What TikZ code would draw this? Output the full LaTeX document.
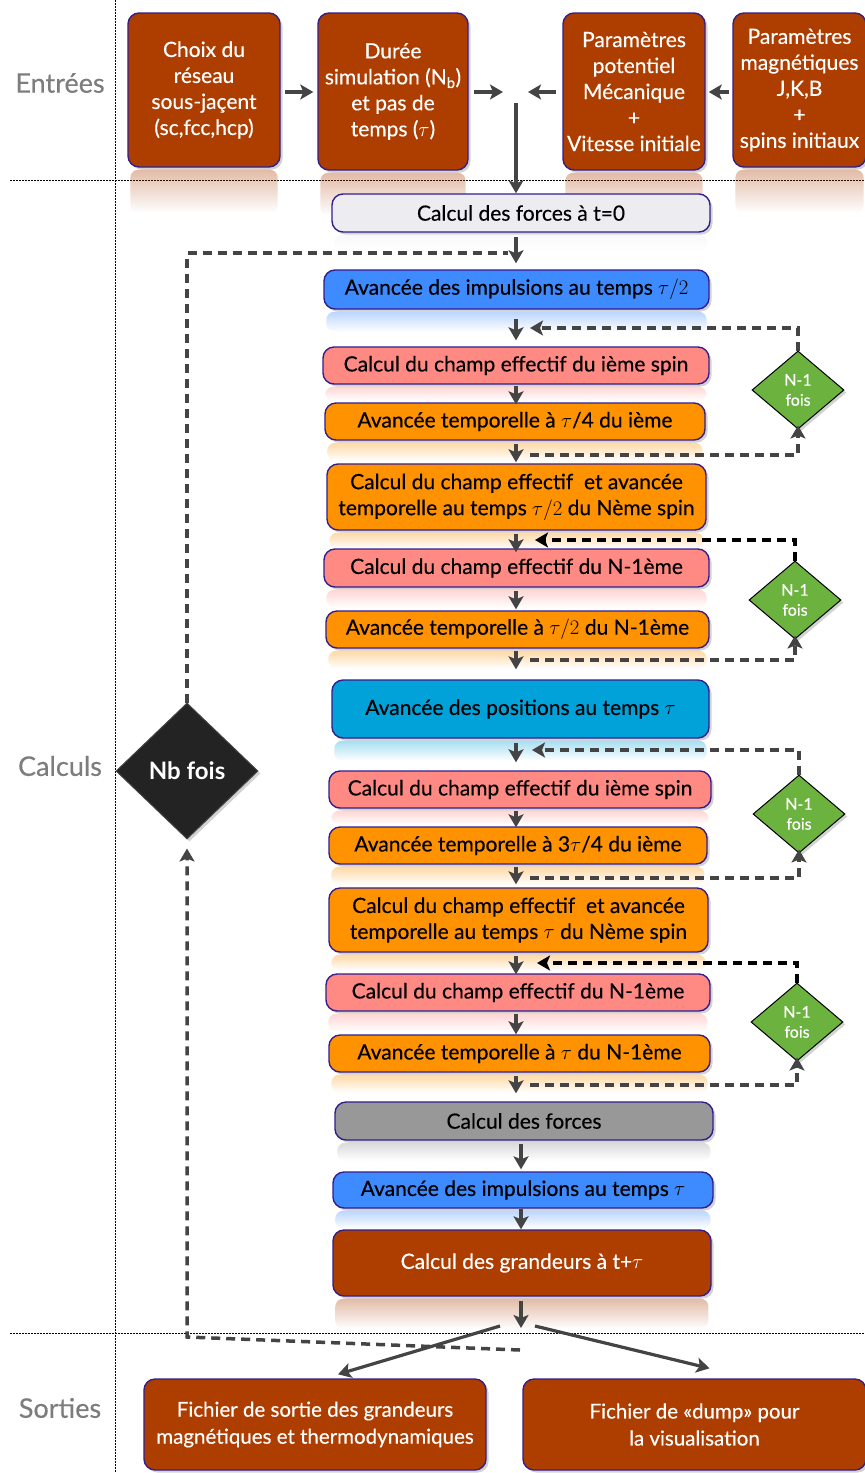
\documentclass[tikz,border=0pt]{standalone}
\usepackage{fontspec}
\setmainfont{Lato}[UprightFeatures={FakeBold=0.35}]
\usetikzlibrary{arrows.meta,shapes.geometric,shadows,fadings,calc}
\definecolor{brn}{RGB}{174,61,0}
\definecolor{bord}{RGB}{52,30,140}
\definecolor{lgray}{RGB}{236,236,241}
\definecolor{blu}{RGB}{62,138,255}
\definecolor{pnk}{RGB}{255,138,132}
\definecolor{orng}{RGB}{255,146,0}
\definecolor{cyn}{RGB}{0,162,217}
\definecolor{gry}{RGB}{152,152,152}
\definecolor{grn}{RGB}{108,178,62}
\definecolor{dk}{RGB}{35,35,35}
\definecolor{arrc}{RGB}{68,68,68}
\definecolor{lab}{RGB}{125,125,125}
\newcommand\mybox[7]{\node[box,#6,minimum width={(#3-#2)*1pt},minimum height={(#5-#4)*1pt}] (#1) at ({(#2+#3)/2},{(#4+#5)/2}) {#7};}
\newcommand\myrefl[3]{\fill[#2,opacity=.35,path fading=south,rounded corners=8pt] ($(#1.south west)+(3,2)$) rectangle ($(#1.south east)+(-3,#3)$);}
\newcommand\myarr[5]{\draw[arr] ($(#1.south-|#5)+(0,#3)$) -- ($(#2.north-|#5)+(0,#4)$);}
\begin{document}
\begin{tikzpicture}[x=1pt,y=-1pt,
  box/.style={draw=bord,line width=1.4pt,rounded corners=11pt,align=center,inner sep=0pt,
    font=\fontsize{21}{26}\selectfont,
    drop shadow={opacity=.35,shadow xshift=2.5pt,shadow yshift=-2.5pt}},
  brownbox/.style={fill=brn,text=white},
  graybox/.style={fill=lgray,text=black},
  bluebox/.style={fill=blu,text=black},
  pinkbox/.style={fill=pnk,text=black},
  orangebox/.style={fill=orng,text=black},
  cyanbox/.style={fill=cyn,text=black},
  midgraybox/.style={fill=gry,text=black},
  arr/.style={draw=arrc,line width=3.2pt,-{Stealth[length=13pt,width=15pt,inset=3pt]}},
  dsh/.style={draw=arrc,line width=3.5pt,dash pattern=on 9pt off 6pt},
  dshk/.style={draw=black,line width=3.5pt,dash pattern=on 9pt off 6pt},
  tip/.style={-{Stealth[length=13pt,width=15pt,inset=3pt]}},
  dotline/.style={draw=black,line width=0.9pt,dash pattern=on 1.5pt off 1.5pt},
  sect/.style={text=lab,font=\fontsize{27}{30}\selectfont},
  nfois/.style={diamond,fill=grn,draw=black,line width=1pt,minimum width=92pt,minimum height=78pt,
    inner sep=0pt,text=white,align=center,font=\fontsize{16}{20}\selectfont,
    drop shadow={opacity=.35,shadow xshift=2.5pt,shadow yshift=-2.5pt}},
  nbdiam/.style={diamond,fill=dk,draw=arrc,line width=1pt,minimum width=142pt,minimum height=136pt,
    inner sep=0pt,text=white,font=\fontsize{24}{28}\selectfont\bfseries,
    drop shadow={opacity=.35,shadow xshift=2.5pt,shadow yshift=-2.5pt}}
]
\useasboundingbox (0,0) rectangle (865,1473);
\fill[white] (0,0) rectangle (865,1473);

% section separators
\draw[dotline] (115,0) -- (115,1473);
\draw[dotline] (10,180) -- (865,180);
\draw[dotline] (10,1333) -- (865,1333);
\node[sect] (lin) at (60,83) {Entrées};
\node[sect] (lcalc) at (60,766) {Calculs};
\node[sect] (lout) at (60,1408) {Sorties};

% boxes
\mybox{t1}{128}{280}{13}{167}{brownbox}{Choix du\\réseau\\sous-jaçent\\(sc,fcc,hcp)}
\mybox{t2}{318}{468}{13}{170}{brownbox}{Durée\\simulation (N\textsubscript{b})\\et pas de\\temps ($\tau$)}
\mybox{t3}{563}{705}{13}{170}{brownbox}{Paramètres\\potentiel\\Mécanique\\+\\Vitesse initiale}
\mybox{t4}{733}{866}{13}{167}{brownbox}{Paramètres\\magnétiques\\J,K,B\\+\\spins initiaux}
\myrefl{t1}{brn}{45}
\myrefl{t2}{brn}{45}
\myrefl{t3}{brn}{45}
\myrefl{t4}{brn}{45}

\mybox{f0}{332}{710}{194}{232}{graybox}{Calcul des forces à t=0}
\mybox{b1}{324}{709}{270}{309}{bluebox}{Avancée des impulsions au temps $\tau/2$}
\mybox{p1}{323}{709}{347}{384}{pinkbox}{Calcul du champ effectif du ième spin}
\mybox{o1}{325}{705}{403}{440}{orangebox}{Avancée temporelle à $\tau$/4 du ième}
\mybox{o2}{327}{706}{464}{530}{orangebox}{Calcul du champ effectif\ \ et avancée\\temporelle au temps $\tau/2$ du Nème spin}
\mybox{p2}{324}{709}{549}{587}{pinkbox}{Calcul du champ effectif du N-1ème}
\mybox{o3}{326}{709}{611}{648}{orangebox}{Avancée temporelle à $\tau/2$ du N-1ème}
\mybox{c1}{332}{709}{680}{738}{cyanbox}{Avancée des positions au temps $\tau$}
\mybox{p3}{329}{711}{771}{808}{pinkbox}{Calcul du champ effectif du ième spin}
\mybox{o4}{329}{707}{827}{864}{orangebox}{Avancée temporelle à 3$\tau$/4 du ième}
\mybox{o5}{329}{708}{888}{952}{orangebox}{Calcul du champ effectif\ \ et avancée\\temporelle au temps $\tau$ du Nème spin}
\mybox{p4}{326}{710}{974}{1011}{pinkbox}{Calcul du champ effectif du N-1ème}
\mybox{o6}{329}{710}{1035}{1072}{orangebox}{Avancée temporelle à $\tau$ du N-1ème}
\mybox{g1}{335}{713}{1102}{1140}{midgraybox}{Calcul des forces}
\mybox{b2}{333}{713}{1172}{1208}{bluebox}{Avancée des impulsions au temps $\tau$}
\mybox{r1}{333}{711}{1230}{1296}{brownbox}{Calcul des grandeurs à t+$\tau$}
\mybox{s1}{144}{486}{1379}{1470}{brownbox,font=\fontsize{20.5}{27}\selectfont}{Fichier de sortie des grandeurs\\magnétiques et thermodynamiques}
\mybox{s2}{523}{866}{1379}{1470}{brownbox,font=\fontsize{20.5}{27}\selectfont}{Fichier de «dump» pour\\la visualisation}

\myrefl{f0}{lgray}{18}
\myrefl{b1}{blu}{22}
\myrefl{p1}{pnk}{16}
\myrefl{o1}{orng}{20}
\myrefl{o2}{orng}{18}
\myrefl{p2}{pnk}{20}
\myrefl{o3}{orng}{20}
\myrefl{c1}{cyn}{22}
\myrefl{p3}{pnk}{16}
\myrefl{o4}{orng}{20}
\myrefl{o5}{orng}{18}
\myrefl{p4}{pnk}{20}
\myrefl{o6}{orng}{20}
\myrefl{g1}{gry}{20}
\myrefl{b2}{blu}{20}
\myrefl{r1}{brn}{32}

% diamonds
\node[nbdiam] (nb) at (187,771) {Nb fois};
\node[nfois] (d1) at (798,390) {N-1\\fois};
\node[nfois] (d2) at (795,600) {N-1\\fois};
\node[nfois] (d3) at (799,814) {N-1\\fois};
\node[nfois] (d4) at (797,1022) {N-1\\fois};

% columns
\coordinate (col) at (516,0);
\coordinate (colb) at (521,0);

% top arrows
\coordinate (mid) at (516,92);
\draw[arr,shorten <=4pt,shorten >=4pt] (t1.east|-mid) -- (t2.west|-mid);
\draw[arr,shorten <=5pt,shorten >=13pt] (t2.east|-mid) -- (mid);
\draw[arr,shorten <=6pt,shorten >=12pt] (t3.west|-mid) -- (mid);
\draw[arr,shorten <=3pt,shorten >=3pt] (t4.west|-mid) -- (t3.east|-mid);
\draw[arr,shorten <=11pt] (mid) -- (f0.north-|mid);

% main chain
\myarr{f0}{b1}{4}{-6}{col}
\myarr{b1}{p1}{9}{-6}{col}
\myarr{p1}{o1}{1}{2}{col}
\myarr{o1}{o2}{3}{-1}{col}
\myarr{o2}{p2}{3}{4}{col}
\myarr{p2}{o3}{3}{-1}{col}
\myarr{o3}{c1}{2}{-10}{col}
\myarr{c1}{p3}{4}{-8}{col}
\myarr{p3}{o4}{2}{1}{col}
\myarr{o4}{o5}{2}{-3}{col}
\myarr{o5}{p4}{3}{1}{col}
\myarr{p4}{o6}{2}{0}{col}
\myarr{o6}{g1}{3}{-8}{col}
\myarr{g1}{b2}{3}{-2}{colb}
\myarr{b2}{r1}{0}{0}{colb}
\coordinate (sp) at (521,1328);
\draw[arr] ($(r1.south-|colb)+(0,4)$) -- (sp);
\draw[arr] ($(sp)+(-21,-2)$) -- ($(s1.north)+(23,-4)$);
\draw[arr] ($(sp)+(14,-2)$) -- ($(s2.north)+(15,-10)$);

% inner loops
\coordinate (k1a) at (530,328);  \coordinate (k1b) at (530,455);
\coordinate (k2a) at (535,540);  \coordinate (k2b) at (530,660);
\coordinate (k3a) at (532,750);  \coordinate (k3b) at (530,878);
\coordinate (k4a) at (537,963);  \coordinate (k4b) at (530,1085);
\draw[dsh,tip] (d1.north) |- (k1a);
\draw[dsh,tip,shorten >=-4pt] (k1b) -| (d1.south);
\draw[dshk,tip] (d2.north) |- (k2a);
\draw[dsh,tip,shorten >=-4pt] (k2b) -| (d2.south);
\draw[dsh,tip] (d3.north) |- (k3a);
\draw[dsh,tip,shorten >=-4pt] (k3b) -| (d3.south);
\draw[dshk,tip] (d4.north) |- (k4a);
\draw[dsh,tip,shorten >=-4pt] (k4b) -| (d4.south);

% outer loop
\coordinate (nbt) at (508,253);
\draw[dsh] (nb.north) |- (nbt);
\coordinate (nbb) at (520,1350);
\coordinate (nbc) at (187,1337);
\draw[dsh,tip,shorten >=9pt] (nbb) -- (nbc) -- (nb.south);
\end{tikzpicture}
\end{document}
